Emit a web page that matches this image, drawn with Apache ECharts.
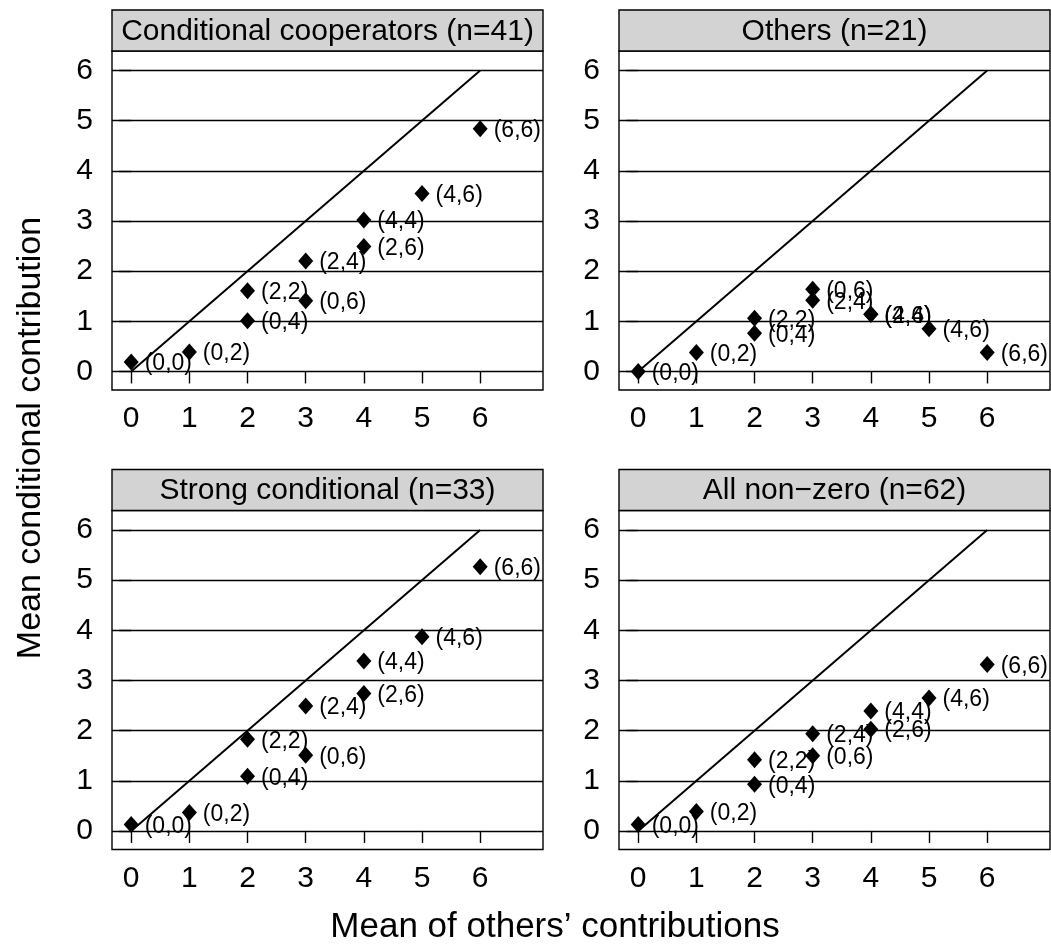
<!DOCTYPE html>
<html>
<head>
<meta charset="utf-8">
<script src="https://cdn.jsdelivr.net/npm/echarts@6/dist/echarts.min.js"></script>
<style>
html, body { margin: 0; padding: 0; background: #fff; }
#chart { width: 1051px; height: 949px; }
</style>
</head>
<body>
<div id="chart"></div>
<script>
// point labels (pair of others' contributions) and their mean
const pairLabels = ['(0,0)', '(0,2)', '(2,2)', '(0,4)', '(2,4)', '(0,6)', '(4,4)', '(2,6)', '(4,6)', '(6,6)']
const othersMean = [0, 1, 2, 2, 3, 3, 4, 4, 5, 6]
const panelTitles = ['Conditional cooperators (n=41)', 'Others (n=21)', 'Strong conditional (n=33)', 'All non\u2212zero (n=62)']
// mean conditional contribution per panel
const condCoop = [0.19, 0.39, 1.61, 1.01, 2.20, 1.41, 3.02, 2.49, 3.55, 4.84]
const othersGroup = [0, 0.38, 1.06, 0.76, 1.42, 1.64, 1.14, 1.14, 0.85, 0.38]
const strongCond = [0.13, 0.37, 1.83, 1.09, 2.49, 1.51, 3.39, 2.74, 3.87, 5.27]
const allNonZero = [0.13, 0.39, 1.42, 0.93, 1.94, 1.50, 2.39, 2.03, 2.65, 3.32]
const tickValues = [0, 1, 2, 3, 4, 5, 6]
const diagonal = [[0, 0], [6, 6]]

const panelValues = [condCoop, othersGroup, strongCond, allNonZero]
const font = 'Liberation Sans, Arial, Helvetica, sans-serif'
const lw = 1.4

// panel boxes
const boxes = [
  { left: 112, top: 51 },
  { left: 619, top: 51 },
  { left: 112, top: 510.5 },
  { left: 619, top: 510.5 }
]
const boxW = 431
const boxH = 339
const stripH = 41

const grid = []
const xAxis = []
const yAxis = []
const series = []
const graphic = []

boxes.forEach(function (b, i) {
  grid.push({
    left: b.left, top: b.top, width: boxW, height: boxH,
    show: true, borderColor: '#000', borderWidth: lw,
    backgroundColor: '#fff', containLabel: false, outerBoundsMode: 'none'
  })
  xAxis.push({
    type: 'value', gridIndex: i, min: -0.33, max: 7.08,
    axisLine: { show: false },
    axisTick: { show: true, inside: false, length: 12, customValues: tickValues, lineStyle: { color: '#000', width: lw } },
    axisLabel: { show: true, customValues: tickValues, margin: 14, fontSize: 30, color: '#000', fontFamily: font },
    splitLine: { show: false }
  })
  yAxis.push({
    type: 'value', gridIndex: i, min: -0.37, max: 6.39,
    axisLine: { show: false },
    axisTick: { show: true, inside: false, length: 12, customValues: tickValues, lineStyle: { color: '#000', width: lw } },
    axisLabel: { show: true, customValues: tickValues, margin: 19, fontSize: 30, color: '#000', fontFamily: font },
    splitLine: { show: true, lineStyle: { color: '#000', width: lw } }
  })
  series.push({
    type: 'line', xAxisIndex: i, yAxisIndex: i,
    data: diagonal, symbol: 'none', silent: true,
    lineStyle: { color: '#000', width: 2 }, z: 2
  })
  series.push({
    type: 'scatter', xAxisIndex: i, yAxisIndex: i,
    symbol: 'diamond', symbolSize: [15, 17],
    itemStyle: { color: '#000', opacity: 1 },
    data: othersMean.map(function (x, k) {
      return { value: [x, panelValues[i][k]], name: pairLabels[k] }
    }),
    label: {
      show: true, position: 'right', distance: 6, offset: [0, 2],
      formatter: '{b}', fontSize: 23, color: '#000', fontFamily: font
    },
    z: 3
  })
  // strip on top of each panel
  graphic.push({
    type: 'rect',
    shape: { x: b.left, y: b.top - stripH, width: boxW, height: stripH },
    style: { fill: '#d3d3d3', stroke: '#000', lineWidth: lw }
  })
  graphic.push({
    type: 'text',
    x: b.left + boxW / 2, y: b.top - stripH / 2 + 1,
    style: {
      text: panelTitles[i], fontSize: 30, fontFamily: font, fill: '#000',
      textAlign: 'center', textVerticalAlign: 'middle'
    }
  })
})

graphic.push({
  type: 'text', x: 555, y: 927,
  style: {
    text: 'Mean of others\u2019 contributions', fontSize: 35, fontFamily: font, fill: '#000',
    textAlign: 'center', textVerticalAlign: 'middle'
  }
})
graphic.push({
  type: 'text', x: 31, y: 438, rotation: Math.PI / 2,
  style: {
    text: 'Mean conditional contribution', fontSize: 34, fontFamily: font, fill: '#000',
    textAlign: 'center', textVerticalAlign: 'middle'
  }
})

const chart = echarts.init(document.getElementById('chart'))
chart.setOption({
  animation: false,
  backgroundColor: '#fff',
  textStyle: { fontFamily: font },
  grid: grid,
  xAxis: xAxis,
  yAxis: yAxis,
  series: series,
  graphic: graphic
})
window.addEventListener('resize', chart.resize)
</script>
</body>
</html>
